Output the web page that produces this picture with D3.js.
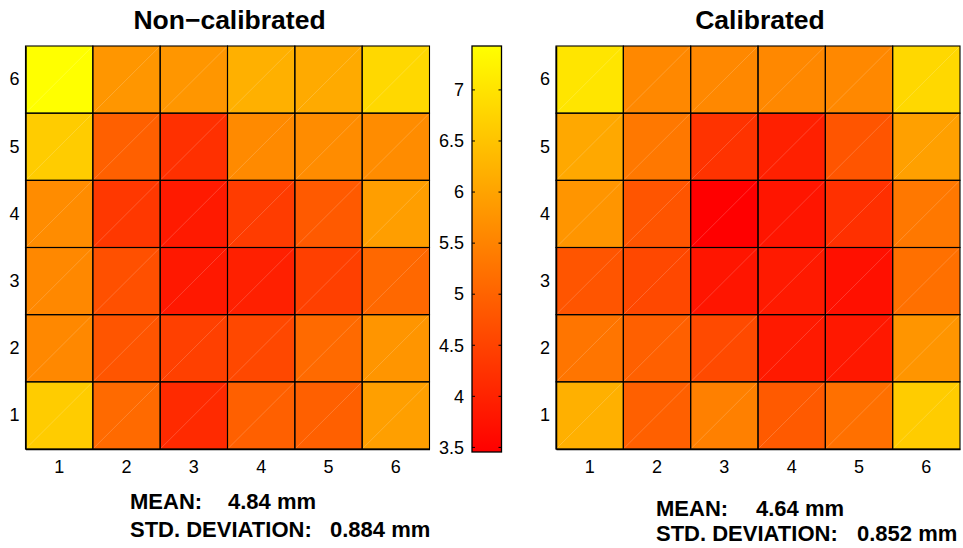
<!DOCTYPE html>
<html><head><meta charset="utf-8">
<script src="https://cdn.jsdelivr.net/npm/d3@7"></script>
<style>
html,body{margin:0;padding:0;background:#fff;}
svg{display:block;}
svg text{font-family:"Liberation Sans",Arial,sans-serif;}
</style></head>
<body>
<svg id="chart" width="963" height="548"></svg>
<script>
// ---- data ----
const cols = [1,2,3,4,5,6];
const rows = [1,2,3,4,5,6];
// rows listed from top (6) to bottom (1), columns 1..6
const nonCalibrated = [
  [7.43, 5.79, 5.79, 6.20, 6.11, 6.82],
  [6.64, 4.95, 4.20, 5.61, 5.64, 5.64],
  [5.64, 4.33, 3.86, 4.39, 4.86, 5.92],
  [5.58, 4.70, 3.83, 3.95, 4.45, 5.08],
  [5.58, 4.78, 4.45, 4.58, 5.11, 5.78],
  [6.64, 5.11, 4.11, 4.95, 4.95, 5.93]
];
const calibrated = [
  [7.03, 5.58, 5.58, 5.58, 5.58, 6.82],
  [6.07, 5.33, 4.25, 3.95, 4.78, 5.95],
  [5.78, 4.78, 3.455, 3.78, 4.20, 5.33],
  [4.78, 4.58, 3.78, 3.86, 3.70, 5.20],
  [5.28, 4.95, 4.61, 3.86, 3.83, 5.78],
  [6.20, 4.95, 5.45, 4.86, 5.20, 6.64]
];
const rowOrder = [6,5,4,3,2,1];
const titles = ["Non\u2212calibrated", "Calibrated"];
const means = ["4.84 mm", "4.64 mm"];
const stds = ["0.884 mm", "0.852 mm"];
const cbarTicks = [3.5, 4, 4.5, 5, 5.5, 6, 6.5, 7];
const cmin = 3.455, cmax = 7.43;

// ---- drawing ----
const FONT = '"Liberation Sans", Arial, sans-serif';
const svg = d3.select("#chart");
const color = d3.scaleLinear().domain([cmin, cmax]).range(["#ff0000", "#ffff00"]).interpolate(d3.interpolateRgb);

const panels = [
  {data: nonCalibrated, x0: 25.5, x1: 429.5, y0: 46, y1: 449, title: titles[0], mean: means[0], std: stds[0],
   tx: 130, vx1: 228, vx2: 330, by1: 509, by2: 537},
  {data: calibrated, x0: 556, x1: 960, y0: 46, y1: 449, title: titles[1], mean: means[1], std: stds[1],
   tx: 656, vx1: 756, vx2: 857, by1: 516, by2: 541}
];

panels.forEach(p => {
  const x = d3.scaleBand().domain(cols).range([p.x0, p.x1]);
  const y = d3.scaleBand().domain(rowOrder).range([p.y0, p.y1]);
  const g = svg.append("g");
  const cells = [];
  p.data.forEach((r, i) => r.forEach((v, j) => cells.push({row: rowOrder[i], col: cols[j], v})));
  g.selectAll("rect.cell").data(cells).join("rect")
    .attr("class","cell")
    .attr("x", d => x(d.col)).attr("y", d => y(d.row))
    .attr("width", x.bandwidth()).attr("height", y.bandwidth())
    .attr("fill", d => color(d.v));
  // faint diagonal rendering seams
  g.selectAll("line.diag").data(cells).join("line")
    .attr("class","diag")
    .attr("x1", d => x(d.col)).attr("y1", d => y(d.row) + y.bandwidth())
    .attr("x2", d => x(d.col) + x.bandwidth()).attr("y2", d => y(d.row))
    .attr("stroke", "#fff").attr("stroke-opacity", 0.3).attr("stroke-width", 0.6);
  g.selectAll("rect.border").data(cells).join("rect")
    .attr("class","border")
    .attr("x", d => x(d.col)).attr("y", d => y(d.row))
    .attr("width", x.bandwidth()).attr("height", y.bandwidth())
    .attr("fill", "none").attr("stroke", "#000").attr("stroke-width", 1.1);

  const xa = g.append("g").attr("transform", `translate(0,${p.y1})`)
    .call(d3.axisBottom(x).tickSize(0).tickPadding(0))
    .attr("font-size", 18).attr("font-family", FONT);
  xa.select(".domain").attr("stroke","#000").attr("stroke-width",1.5);
  xa.selectAll("text").attr("fill","#000").attr("dy", null).attr("y", 24);
  const ya = g.append("g").attr("transform", `translate(${p.x0},0)`)
    .call(d3.axisLeft(y).tickSize(0).tickPadding(6))
    .attr("font-size", 18).attr("font-family", FONT);
  ya.select(".domain").attr("stroke","#000").attr("stroke-width",1.5);
  ya.selectAll("text").attr("fill","#000");

  svg.append("text").attr("x", (p.x0 + p.x1)/2 + 2).attr("y", 29)
    .attr("text-anchor","middle").attr("font-weight","bold").attr("font-size", 26.5)
    .text(p.title);

  const st = svg.append("g").attr("font-weight","bold").attr("font-size", 22).attr("fill","#000");
  st.append("text").attr("x", p.tx).attr("y", p.by1).text("MEAN:");
  st.append("text").attr("x", p.vx1).attr("y", p.by1).text(p.mean);
  st.append("text").attr("x", p.tx).attr("y", p.by2).text("STD. DEVIATION:");
  st.append("text").attr("x", p.vx2).attr("y", p.by2).text(p.std);
});

// ---- colorbar ----
const cb = {x0: 472, x1: 501.5, y0: 46, y1: 452};
const cy = d3.scaleLinear().domain([cmin, cmax]).range([cb.y1, cb.y0]);
const defs = svg.append("defs");
const grad = defs.append("linearGradient").attr("id","cbgrad")
  .attr("x1",0).attr("y1",1).attr("x2",0).attr("y2",0);
grad.selectAll("stop").data([cmin, cmax]).join("stop")
  .attr("offset", (d,i) => i).attr("stop-color", d => color(d));
svg.append("rect").attr("x", cb.x0).attr("y", cb.y0)
  .attr("width", cb.x1 - cb.x0).attr("height", cb.y1 - cb.y0)
  .attr("fill","url(#cbgrad)").attr("stroke","#000").attr("stroke-width",1.3);
const ca = svg.append("g").attr("transform", `translate(${cb.x0},0)`)
  .call(d3.axisLeft(cy).tickValues(cbarTicks).tickFormat(d3.format("")).tickSize(0).tickPadding(8))
  .attr("font-size", 18).attr("font-family", FONT);
ca.select(".domain").remove();
ca.selectAll("text").attr("fill","#000");
svg.append("g").selectAll("line").data(cbarTicks).join("line")
  .attr("x1", cb.x0).attr("x2", cb.x0 + 3).attr("y1", d => cy(d)).attr("y2", d => cy(d))
  .attr("stroke","#000").attr("stroke-width",1);
svg.append("g").selectAll("line").data(cbarTicks).join("line")
  .attr("x1", cb.x1 - 3).attr("x2", cb.x1).attr("y1", d => cy(d)).attr("y2", d => cy(d))
  .attr("stroke","#000").attr("stroke-width",1);
</script>
</body></html>
